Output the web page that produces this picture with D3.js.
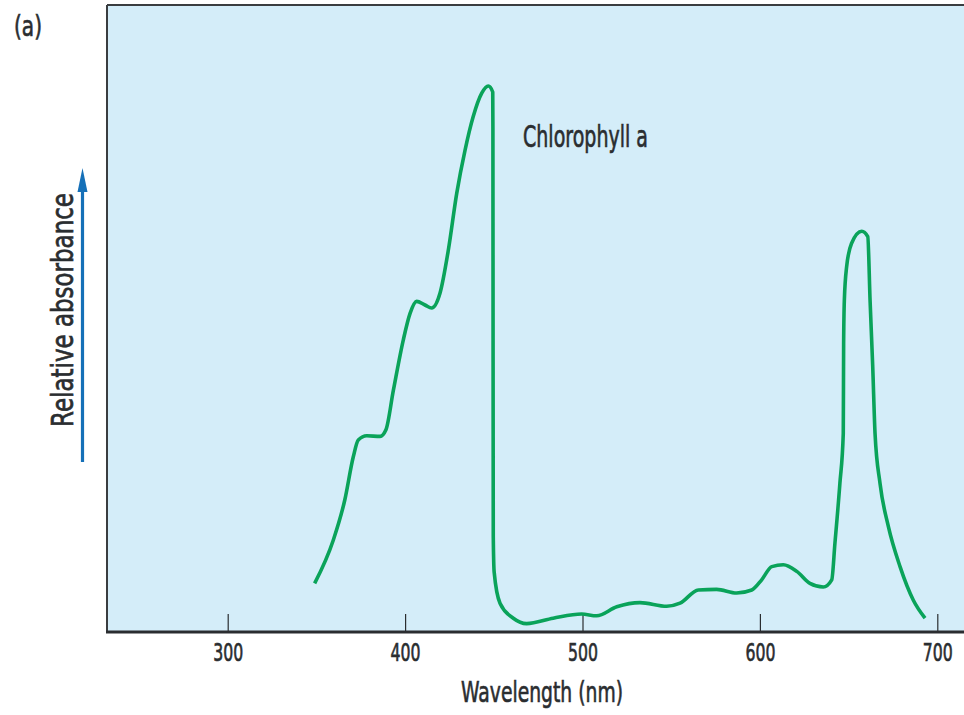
<!DOCTYPE html>
<html>
<head>
<meta charset="utf-8">
<script src="https://cdn.jsdelivr.net/npm/d3@7.9.0/dist/d3.min.js"></script>
<style>
  body { margin: 0; background: #fff; }
  svg text {
    font-family: "DejaVu Sans", "Liberation Sans", sans-serif;
    fill: #2a2d30;
    stroke: #2a2d30;
    stroke-width: 0.7px;
  }
</style>
</head>
<body>
<svg id="chart" width="964" height="715"></svg>
<script>
// chlorophyll a absorption spectrum (relative units)
const wavelengths = [349, 359.5, 366, 370.8, 373.6, 378.4, 385.9, 389.2, 393.4, 399,
  402.8, 406.5, 411.2, 415, 419.7, 424.4, 429.1, 433.8, 438.4, 443.2, 446.9,
  449.4, 449.5, 449.6, 449.7, 450.2, 453.5, 461, 468.5, 483.5, 499.5, 508, 519.3,
  532.4, 547.5, 555, 565.3, 575.6, 586.9, 595.4, 601, 606.7, 613.2, 620.8, 628.2,
  635.7, 640.5, 642.3, 645.1, 647, 647.2, 647.6, 648.9, 651.7, 657.4, 660.8,
  662.1, 663.6, 664.9, 667.7, 672.4, 679, 686.5, 693.1];
const absorbance = [0.081, 0.153, 0.22, 0.292, 0.32, 0.327, 0.326, 0.337, 0.403, 0.487,
  0.531, 0.551, 0.545, 0.540, 0.565, 0.637, 0.731, 0.803, 0.859, 0.898, 0.91,
  0.90, 0.84, 0.45, 0.16, 0.10, 0.048, 0.023, 0.014, 0.023, 0.03, 0.027, 0.042,
  0.049, 0.043, 0.048, 0.070, 0.071, 0.065, 0.07, 0.087, 0.109, 0.112, 0.101, 0.081,
  0.075, 0.087, 0.148, 0.248, 0.331, 0.48, 0.553, 0.609, 0.648, 0.668, 0.659,
  0.553, 0.442, 0.331, 0.248, 0.176, 0.109, 0.053, 0.023];
const xTicks = [300, 400, 500, 600, 700];

const svg = d3.select('#chart');
const plotLeft = 107, plotRight = 964, plotTop = 5, plotBottom = 632;

const x = d3.scaleLinear().domain([300, 700]).range([227.7, 937.3]);
const y = d3.scaleLinear().domain([0, 1]).range([plotBottom, 32]);

// the original uses a condensed face; squeeze DejaVu to the measured widths
function squeezed(sel, width) {
  return sel.attr('textLength', width).attr('lengthAdjust', 'spacingAndGlyphs');
}

// plot background + frame
svg.append('rect')
   .attr('x', plotLeft).attr('y', plotTop)
   .attr('width', plotRight - plotLeft + 2).attr('height', plotBottom - plotTop)
   .attr('fill', '#d4edf9');
svg.append('line')
   .attr('x1', plotLeft).attr('x2', plotRight + 2).attr('y1', plotTop).attr('y2', plotTop)
   .attr('stroke', '#3a3d40').attr('stroke-width', 2);
svg.append('line')
   .attr('x1', plotLeft).attr('x2', plotLeft).attr('y1', plotTop).attr('y2', plotBottom)
   .attr('stroke', '#3a3d40').attr('stroke-width', 2);

// x axis: ticks point inward
const xAxis = d3.axisBottom(x).tickValues(xTicks).tickSize(-18).tickPadding(0);
const gx = svg.append('g').attr('transform', `translate(0,${plotBottom})`).call(xAxis);
gx.select('.domain').remove();
gx.selectAll('.tick line').attr('stroke', '#2a2d30').attr('stroke-width', 1.2);
gx.selectAll('.tick text')
  .attr('y', 29)
  .attr('dy', 0)
  .attr('font-size', 25)
  .attr('fill', '#2a2d30')
  .style('font-family', '"DejaVu Sans", sans-serif')
  .call(squeezed, 30);
svg.append('line')
   .attr('x1', plotLeft - 1).attr('x2', plotRight).attr('y1', plotBottom).attr('y2', plotBottom)
   .attr('stroke', '#2a2d30').attr('stroke-width', 3);

svg.append('text')
   .attr('x', 542).attr('y', 702)
   .attr('text-anchor', 'middle')
   .attr('font-size', 29)
   .text('Wavelength (nm)')
   .call(squeezed, 162);

// y label and arrow
svg.append('text')
   .attr('transform', 'translate(73,310) rotate(-90)')
   .attr('text-anchor', 'middle')
   .attr('font-size', 30)
   .text('Relative absorbance')
   .call(squeezed, 234);

svg.append('line')
   .attr('x1', 82.5).attr('x2', 82.5)
   .attr('y1', 462).attr('y2', 188)
   .attr('stroke', '#1570b8').attr('stroke-width', 3.2);
svg.append('path')
   .attr('d', 'M82.5,168 L77.5,192 L87.5,192 Z')
   .attr('fill', '#1570b8');

// spectrum
const data = wavelengths.map((w, i) => ({ w, a: absorbance[i] }));
const line = d3.line()
  .x(d => x(d.w))
  .y(d => y(d.a))
  .curve(d3.curveMonotoneX);

svg.append('path')
   .datum(data)
   .attr('d', line)
   .attr('fill', 'none')
   .attr('stroke', '#0aa35a')
   .attr('stroke-width', 3.6)
   .attr('stroke-linejoin', 'round');

svg.append('text')
   .attr('x', 523).attr('y', 147)
   .attr('font-size', 30)
   .text('Chlorophyll a')
   .call(squeezed, 125);

svg.append('text')
   .attr('x', 14).attr('y', 36)
   .attr('font-size', 29)
   .text('(a)')
   .call(squeezed, 28);
</script>
</body>
</html>
